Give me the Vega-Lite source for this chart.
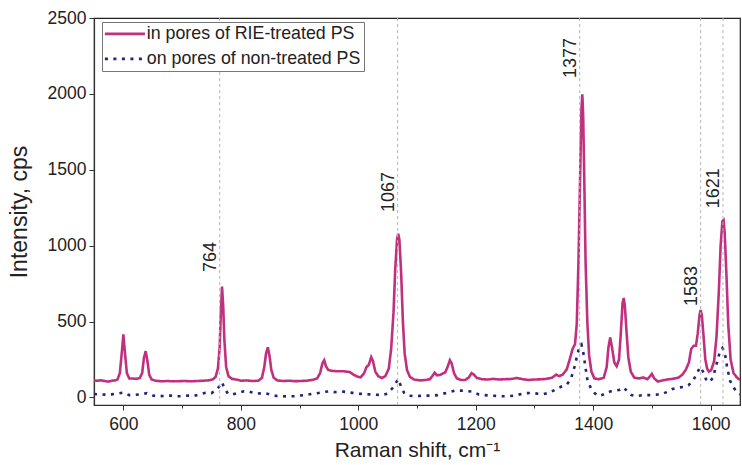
{
  "$schema": "https://vega.github.io/schema/vega-lite/v6.json",
  "autosize": {"type": "none"},
  "padding": {"left": 94, "top": 18, "right": 2, "bottom": 60},
  "width": 646,
  "height": 387,
  "background": "white",
  "config": {
    "font": "Liberation Sans",
    "view": {"stroke": "#222", "strokeWidth": 1.2},
    "axis": {
      "domainColor": "#333",
      "domainWidth": 1.2,
      "tickColor": "#333",
      "tickWidth": 1,
      "labelFont": "Liberation Sans",
      "labelFontSize": 17.5,
      "labelColor": "#222",
      "titleFont": "Liberation Sans",
      "titleFontWeight": "normal",
      "titleColor": "#222",
      "grid": false
    },
    "legend": {
      "labelFont": "Liberation Sans",
      "labelFontSize": 17.8,
      "labelColor": "#222",
      "labelLimit": 0
    }
  },
  "datasets": {
    "peaks": [
      {"p": 764, "lab": "764", "ly": 826},
      {"p": 1067, "lab": "1067", "ly": 1221},
      {"p": 1377, "lab": "1377", "ly": 2104},
      {"p": 1583, "lab": "1583", "ly": 602},
      {"p": 1621, "lab": "1621", "ly": 1247}
    ],
    "spectra": [
      {"x": 550, "y": 112, "s": "in pores of RIE-treated PS"},
      {"x": 556, "y": 110, "s": "in pores of RIE-treated PS"},
      {"x": 562, "y": 113, "s": "in pores of RIE-treated PS"},
      {"x": 568, "y": 108, "s": "in pores of RIE-treated PS"},
      {"x": 574, "y": 104, "s": "in pores of RIE-treated PS"},
      {"x": 580, "y": 110, "s": "in pores of RIE-treated PS"},
      {"x": 586, "y": 112, "s": "in pores of RIE-treated PS"},
      {"x": 590, "y": 118, "s": "in pores of RIE-treated PS"},
      {"x": 594, "y": 160, "s": "in pores of RIE-treated PS"},
      {"x": 597, "y": 280, "s": "in pores of RIE-treated PS"},
      {"x": 600, "y": 415, "s": "in pores of RIE-treated PS"},
      {"x": 603, "y": 280, "s": "in pores of RIE-treated PS"},
      {"x": 606, "y": 160, "s": "in pores of RIE-treated PS"},
      {"x": 610, "y": 125, "s": "in pores of RIE-treated PS"},
      {"x": 616, "y": 125, "s": "in pores of RIE-treated PS"},
      {"x": 622, "y": 122, "s": "in pores of RIE-treated PS"},
      {"x": 628, "y": 128, "s": "in pores of RIE-treated PS"},
      {"x": 632, "y": 160, "s": "in pores of RIE-treated PS"},
      {"x": 635, "y": 260, "s": "in pores of RIE-treated PS"},
      {"x": 638, "y": 305, "s": "in pores of RIE-treated PS"},
      {"x": 641, "y": 240, "s": "in pores of RIE-treated PS"},
      {"x": 644, "y": 150, "s": "in pores of RIE-treated PS"},
      {"x": 648, "y": 118, "s": "in pores of RIE-treated PS"},
      {"x": 655, "y": 110, "s": "in pores of RIE-treated PS"},
      {"x": 665, "y": 106, "s": "in pores of RIE-treated PS"},
      {"x": 675, "y": 108, "s": "in pores of RIE-treated PS"},
      {"x": 685, "y": 106, "s": "in pores of RIE-treated PS"},
      {"x": 695, "y": 107, "s": "in pores of RIE-treated PS"},
      {"x": 705, "y": 108, "s": "in pores of RIE-treated PS"},
      {"x": 715, "y": 106, "s": "in pores of RIE-treated PS"},
      {"x": 725, "y": 108, "s": "in pores of RIE-treated PS"},
      {"x": 735, "y": 110, "s": "in pores of RIE-treated PS"},
      {"x": 745, "y": 112, "s": "in pores of RIE-treated PS"},
      {"x": 752, "y": 118, "s": "in pores of RIE-treated PS"},
      {"x": 757, "y": 135, "s": "in pores of RIE-treated PS"},
      {"x": 761, "y": 190, "s": "in pores of RIE-treated PS"},
      {"x": 764, "y": 330, "s": "in pores of RIE-treated PS"},
      {"x": 766, "y": 560, "s": "in pores of RIE-treated PS"},
      {"x": 768, "y": 730, "s": "in pores of RIE-treated PS"},
      {"x": 770, "y": 600, "s": "in pores of RIE-treated PS"},
      {"x": 772, "y": 380, "s": "in pores of RIE-treated PS"},
      {"x": 775, "y": 200, "s": "in pores of RIE-treated PS"},
      {"x": 779, "y": 140, "s": "in pores of RIE-treated PS"},
      {"x": 785, "y": 122, "s": "in pores of RIE-treated PS"},
      {"x": 792, "y": 118, "s": "in pores of RIE-treated PS"},
      {"x": 800, "y": 110, "s": "in pores of RIE-treated PS"},
      {"x": 810, "y": 112, "s": "in pores of RIE-treated PS"},
      {"x": 820, "y": 108, "s": "in pores of RIE-treated PS"},
      {"x": 830, "y": 110, "s": "in pores of RIE-treated PS"},
      {"x": 836, "y": 130, "s": "in pores of RIE-treated PS"},
      {"x": 840, "y": 200, "s": "in pores of RIE-treated PS"},
      {"x": 843, "y": 290, "s": "in pores of RIE-treated PS"},
      {"x": 846, "y": 330, "s": "in pores of RIE-treated PS"},
      {"x": 849, "y": 270, "s": "in pores of RIE-treated PS"},
      {"x": 852, "y": 180, "s": "in pores of RIE-treated PS"},
      {"x": 856, "y": 130, "s": "in pores of RIE-treated PS"},
      {"x": 862, "y": 112, "s": "in pores of RIE-treated PS"},
      {"x": 872, "y": 108, "s": "in pores of RIE-treated PS"},
      {"x": 882, "y": 110, "s": "in pores of RIE-treated PS"},
      {"x": 892, "y": 107, "s": "in pores of RIE-treated PS"},
      {"x": 902, "y": 108, "s": "in pores of RIE-treated PS"},
      {"x": 912, "y": 110, "s": "in pores of RIE-treated PS"},
      {"x": 922, "y": 115, "s": "in pores of RIE-treated PS"},
      {"x": 930, "y": 125, "s": "in pores of RIE-treated PS"},
      {"x": 935, "y": 160, "s": "in pores of RIE-treated PS"},
      {"x": 939, "y": 225, "s": "in pores of RIE-treated PS"},
      {"x": 942, "y": 245, "s": "in pores of RIE-treated PS"},
      {"x": 945, "y": 205, "s": "in pores of RIE-treated PS"},
      {"x": 949, "y": 180, "s": "in pores of RIE-treated PS"},
      {"x": 955, "y": 175, "s": "in pores of RIE-treated PS"},
      {"x": 965, "y": 172, "s": "in pores of RIE-treated PS"},
      {"x": 975, "y": 172, "s": "in pores of RIE-treated PS"},
      {"x": 985, "y": 168, "s": "in pores of RIE-treated PS"},
      {"x": 992, "y": 150, "s": "in pores of RIE-treated PS"},
      {"x": 998, "y": 138, "s": "in pores of RIE-treated PS"},
      {"x": 1004, "y": 132, "s": "in pores of RIE-treated PS"},
      {"x": 1010, "y": 160, "s": "in pores of RIE-treated PS"},
      {"x": 1014, "y": 200, "s": "in pores of RIE-treated PS"},
      {"x": 1018, "y": 215, "s": "in pores of RIE-treated PS"},
      {"x": 1022, "y": 265, "s": "in pores of RIE-treated PS"},
      {"x": 1025, "y": 240, "s": "in pores of RIE-treated PS"},
      {"x": 1029, "y": 170, "s": "in pores of RIE-treated PS"},
      {"x": 1034, "y": 140, "s": "in pores of RIE-treated PS"},
      {"x": 1040, "y": 128, "s": "in pores of RIE-treated PS"},
      {"x": 1046, "y": 140, "s": "in pores of RIE-treated PS"},
      {"x": 1052, "y": 190, "s": "in pores of RIE-treated PS"},
      {"x": 1056, "y": 320, "s": "in pores of RIE-treated PS"},
      {"x": 1060, "y": 560, "s": "in pores of RIE-treated PS"},
      {"x": 1063, "y": 850, "s": "in pores of RIE-treated PS"},
      {"x": 1066, "y": 1040, "s": "in pores of RIE-treated PS"},
      {"x": 1068, "y": 1078, "s": "in pores of RIE-treated PS"},
      {"x": 1070, "y": 1040, "s": "in pores of RIE-treated PS"},
      {"x": 1073, "y": 820, "s": "in pores of RIE-treated PS"},
      {"x": 1076, "y": 500, "s": "in pores of RIE-treated PS"},
      {"x": 1079, "y": 290, "s": "in pores of RIE-treated PS"},
      {"x": 1083, "y": 180, "s": "in pores of RIE-treated PS"},
      {"x": 1088, "y": 135, "s": "in pores of RIE-treated PS"},
      {"x": 1095, "y": 118, "s": "in pores of RIE-treated PS"},
      {"x": 1105, "y": 112, "s": "in pores of RIE-treated PS"},
      {"x": 1115, "y": 115, "s": "in pores of RIE-treated PS"},
      {"x": 1122, "y": 120, "s": "in pores of RIE-treated PS"},
      {"x": 1127, "y": 145, "s": "in pores of RIE-treated PS"},
      {"x": 1130, "y": 163, "s": "in pores of RIE-treated PS"},
      {"x": 1134, "y": 145, "s": "in pores of RIE-treated PS"},
      {"x": 1140, "y": 150, "s": "in pores of RIE-treated PS"},
      {"x": 1148, "y": 165, "s": "in pores of RIE-treated PS"},
      {"x": 1152, "y": 200, "s": "in pores of RIE-treated PS"},
      {"x": 1156, "y": 245, "s": "in pores of RIE-treated PS"},
      {"x": 1159, "y": 225, "s": "in pores of RIE-treated PS"},
      {"x": 1163, "y": 160, "s": "in pores of RIE-treated PS"},
      {"x": 1168, "y": 125, "s": "in pores of RIE-treated PS"},
      {"x": 1175, "y": 115, "s": "in pores of RIE-treated PS"},
      {"x": 1182, "y": 115, "s": "in pores of RIE-treated PS"},
      {"x": 1188, "y": 130, "s": "in pores of RIE-treated PS"},
      {"x": 1193, "y": 160, "s": "in pores of RIE-treated PS"},
      {"x": 1197, "y": 150, "s": "in pores of RIE-treated PS"},
      {"x": 1202, "y": 128, "s": "in pores of RIE-treated PS"},
      {"x": 1210, "y": 120, "s": "in pores of RIE-treated PS"},
      {"x": 1220, "y": 118, "s": "in pores of RIE-treated PS"},
      {"x": 1230, "y": 122, "s": "in pores of RIE-treated PS"},
      {"x": 1240, "y": 118, "s": "in pores of RIE-treated PS"},
      {"x": 1250, "y": 120, "s": "in pores of RIE-treated PS"},
      {"x": 1260, "y": 121, "s": "in pores of RIE-treated PS"},
      {"x": 1270, "y": 128, "s": "in pores of RIE-treated PS"},
      {"x": 1280, "y": 120, "s": "in pores of RIE-treated PS"},
      {"x": 1290, "y": 115, "s": "in pores of RIE-treated PS"},
      {"x": 1300, "y": 118, "s": "in pores of RIE-treated PS"},
      {"x": 1310, "y": 119, "s": "in pores of RIE-treated PS"},
      {"x": 1320, "y": 122, "s": "in pores of RIE-treated PS"},
      {"x": 1330, "y": 130, "s": "in pores of RIE-treated PS"},
      {"x": 1337, "y": 150, "s": "in pores of RIE-treated PS"},
      {"x": 1342, "y": 140, "s": "in pores of RIE-treated PS"},
      {"x": 1348, "y": 150, "s": "in pores of RIE-treated PS"},
      {"x": 1355, "y": 185, "s": "in pores of RIE-treated PS"},
      {"x": 1360, "y": 250, "s": "in pores of RIE-treated PS"},
      {"x": 1365, "y": 320, "s": "in pores of RIE-treated PS"},
      {"x": 1369, "y": 350, "s": "in pores of RIE-treated PS"},
      {"x": 1372, "y": 480, "s": "in pores of RIE-treated PS"},
      {"x": 1375, "y": 900, "s": "in pores of RIE-treated PS"},
      {"x": 1378, "y": 1500, "s": "in pores of RIE-treated PS"},
      {"x": 1380, "y": 1900, "s": "in pores of RIE-treated PS"},
      {"x": 1381.5, "y": 1997, "s": "in pores of RIE-treated PS"},
      {"x": 1383, "y": 1850, "s": "in pores of RIE-treated PS"},
      {"x": 1385, "y": 1400, "s": "in pores of RIE-treated PS"},
      {"x": 1387, "y": 900, "s": "in pores of RIE-treated PS"},
      {"x": 1390, "y": 500, "s": "in pores of RIE-treated PS"},
      {"x": 1393, "y": 280, "s": "in pores of RIE-treated PS"},
      {"x": 1397, "y": 170, "s": "in pores of RIE-treated PS"},
      {"x": 1402, "y": 125, "s": "in pores of RIE-treated PS"},
      {"x": 1410, "y": 120, "s": "in pores of RIE-treated PS"},
      {"x": 1418, "y": 130, "s": "in pores of RIE-treated PS"},
      {"x": 1423, "y": 200, "s": "in pores of RIE-treated PS"},
      {"x": 1426, "y": 330, "s": "in pores of RIE-treated PS"},
      {"x": 1429, "y": 395, "s": "in pores of RIE-treated PS"},
      {"x": 1432, "y": 330, "s": "in pores of RIE-treated PS"},
      {"x": 1436, "y": 230, "s": "in pores of RIE-treated PS"},
      {"x": 1440, "y": 205, "s": "in pores of RIE-treated PS"},
      {"x": 1444, "y": 250, "s": "in pores of RIE-treated PS"},
      {"x": 1447, "y": 420, "s": "in pores of RIE-treated PS"},
      {"x": 1450, "y": 620, "s": "in pores of RIE-treated PS"},
      {"x": 1452, "y": 655, "s": "in pores of RIE-treated PS"},
      {"x": 1454, "y": 600, "s": "in pores of RIE-treated PS"},
      {"x": 1457, "y": 420, "s": "in pores of RIE-treated PS"},
      {"x": 1460, "y": 260, "s": "in pores of RIE-treated PS"},
      {"x": 1464, "y": 170, "s": "in pores of RIE-treated PS"},
      {"x": 1470, "y": 130, "s": "in pores of RIE-treated PS"},
      {"x": 1478, "y": 125, "s": "in pores of RIE-treated PS"},
      {"x": 1485, "y": 132, "s": "in pores of RIE-treated PS"},
      {"x": 1492, "y": 120, "s": "in pores of RIE-treated PS"},
      {"x": 1497, "y": 140, "s": "in pores of RIE-treated PS"},
      {"x": 1500, "y": 155, "s": "in pores of RIE-treated PS"},
      {"x": 1504, "y": 125, "s": "in pores of RIE-treated PS"},
      {"x": 1510, "y": 105, "s": "in pores of RIE-treated PS"},
      {"x": 1518, "y": 112, "s": "in pores of RIE-treated PS"},
      {"x": 1526, "y": 118, "s": "in pores of RIE-treated PS"},
      {"x": 1535, "y": 122, "s": "in pores of RIE-treated PS"},
      {"x": 1545, "y": 130, "s": "in pores of RIE-treated PS"},
      {"x": 1552, "y": 150, "s": "in pores of RIE-treated PS"},
      {"x": 1558, "y": 185, "s": "in pores of RIE-treated PS"},
      {"x": 1563, "y": 230, "s": "in pores of RIE-treated PS"},
      {"x": 1567, "y": 320, "s": "in pores of RIE-treated PS"},
      {"x": 1571, "y": 340, "s": "in pores of RIE-treated PS"},
      {"x": 1575, "y": 340, "s": "in pores of RIE-treated PS"},
      {"x": 1578, "y": 420, "s": "in pores of RIE-treated PS"},
      {"x": 1581, "y": 540, "s": "in pores of RIE-treated PS"},
      {"x": 1583, "y": 576, "s": "in pores of RIE-treated PS"},
      {"x": 1585, "y": 540, "s": "in pores of RIE-treated PS"},
      {"x": 1588, "y": 400, "s": "in pores of RIE-treated PS"},
      {"x": 1591, "y": 250, "s": "in pores of RIE-treated PS"},
      {"x": 1594, "y": 190, "s": "in pores of RIE-treated PS"},
      {"x": 1597, "y": 170, "s": "in pores of RIE-treated PS"},
      {"x": 1601, "y": 180, "s": "in pores of RIE-treated PS"},
      {"x": 1606, "y": 240, "s": "in pores of RIE-treated PS"},
      {"x": 1610, "y": 400, "s": "in pores of RIE-treated PS"},
      {"x": 1614, "y": 700, "s": "in pores of RIE-treated PS"},
      {"x": 1617, "y": 1000, "s": "in pores of RIE-treated PS"},
      {"x": 1620, "y": 1160, "s": "in pores of RIE-treated PS"},
      {"x": 1622, "y": 1168, "s": "in pores of RIE-treated PS"},
      {"x": 1624, "y": 1080, "s": "in pores of RIE-treated PS"},
      {"x": 1627, "y": 800, "s": "in pores of RIE-treated PS"},
      {"x": 1630, "y": 480, "s": "in pores of RIE-treated PS"},
      {"x": 1634, "y": 250, "s": "in pores of RIE-treated PS"},
      {"x": 1639, "y": 160, "s": "in pores of RIE-treated PS"},
      {"x": 1645, "y": 130, "s": "in pores of RIE-treated PS"},
      {"x": 1650, "y": 115, "s": "in pores of RIE-treated PS"},

      {"x": 550, "y": 22, "s": "on pores of non-treated PS"},
      {"x": 560, "y": 20, "s": "on pores of non-treated PS"},
      {"x": 570, "y": 18, "s": "on pores of non-treated PS"},
      {"x": 580, "y": 20, "s": "on pores of non-treated PS"},
      {"x": 590, "y": 25, "s": "on pores of non-treated PS"},
      {"x": 600, "y": 32, "s": "on pores of non-treated PS"},
      {"x": 610, "y": 15, "s": "on pores of non-treated PS"},
      {"x": 620, "y": 17, "s": "on pores of non-treated PS"},
      {"x": 630, "y": 20, "s": "on pores of non-treated PS"},
      {"x": 640, "y": 28, "s": "on pores of non-treated PS"},
      {"x": 650, "y": 12, "s": "on pores of non-treated PS"},
      {"x": 660, "y": 8, "s": "on pores of non-treated PS"},
      {"x": 670, "y": 10, "s": "on pores of non-treated PS"},
      {"x": 680, "y": 12, "s": "on pores of non-treated PS"},
      {"x": 690, "y": 8, "s": "on pores of non-treated PS"},
      {"x": 700, "y": 8, "s": "on pores of non-treated PS"},
      {"x": 710, "y": 12, "s": "on pores of non-treated PS"},
      {"x": 720, "y": 10, "s": "on pores of non-treated PS"},
      {"x": 730, "y": 20, "s": "on pores of non-treated PS"},
      {"x": 740, "y": 30, "s": "on pores of non-treated PS"},
      {"x": 750, "y": 28, "s": "on pores of non-treated PS"},
      {"x": 758, "y": 50, "s": "on pores of non-treated PS"},
      {"x": 764, "y": 75, "s": "on pores of non-treated PS"},
      {"x": 768, "y": 100, "s": "on pores of non-treated PS"},
      {"x": 772, "y": 60, "s": "on pores of non-treated PS"},
      {"x": 778, "y": 25, "s": "on pores of non-treated PS"},
      {"x": 785, "y": 18, "s": "on pores of non-treated PS"},
      {"x": 795, "y": 30, "s": "on pores of non-treated PS"},
      {"x": 805, "y": 40, "s": "on pores of non-treated PS"},
      {"x": 815, "y": 38, "s": "on pores of non-treated PS"},
      {"x": 825, "y": 25, "s": "on pores of non-treated PS"},
      {"x": 840, "y": 28, "s": "on pores of non-treated PS"},
      {"x": 850, "y": 20, "s": "on pores of non-treated PS"},
      {"x": 860, "y": 10, "s": "on pores of non-treated PS"},
      {"x": 870, "y": 8, "s": "on pores of non-treated PS"},
      {"x": 880, "y": 6, "s": "on pores of non-treated PS"},
      {"x": 890, "y": 8, "s": "on pores of non-treated PS"},
      {"x": 900, "y": 12, "s": "on pores of non-treated PS"},
      {"x": 910, "y": 15, "s": "on pores of non-treated PS"},
      {"x": 920, "y": 22, "s": "on pores of non-treated PS"},
      {"x": 930, "y": 28, "s": "on pores of non-treated PS"},
      {"x": 940, "y": 35, "s": "on pores of non-treated PS"},
      {"x": 950, "y": 40, "s": "on pores of non-treated PS"},
      {"x": 960, "y": 35, "s": "on pores of non-treated PS"},
      {"x": 975, "y": 38, "s": "on pores of non-treated PS"},
      {"x": 990, "y": 30, "s": "on pores of non-treated PS"},
      {"x": 1000, "y": 25, "s": "on pores of non-treated PS"},
      {"x": 1010, "y": 22, "s": "on pores of non-treated PS"},
      {"x": 1020, "y": 20, "s": "on pores of non-treated PS"},
      {"x": 1030, "y": 18, "s": "on pores of non-treated PS"},
      {"x": 1040, "y": 15, "s": "on pores of non-treated PS"},
      {"x": 1050, "y": 25, "s": "on pores of non-treated PS"},
      {"x": 1058, "y": 60, "s": "on pores of non-treated PS"},
      {"x": 1063, "y": 90, "s": "on pores of non-treated PS"},
      {"x": 1068, "y": 120, "s": "on pores of non-treated PS"},
      {"x": 1073, "y": 70, "s": "on pores of non-treated PS"},
      {"x": 1078, "y": 30, "s": "on pores of non-treated PS"},
      {"x": 1085, "y": 12, "s": "on pores of non-treated PS"},
      {"x": 1095, "y": 8, "s": "on pores of non-treated PS"},
      {"x": 1105, "y": 10, "s": "on pores of non-treated PS"},
      {"x": 1115, "y": 12, "s": "on pores of non-treated PS"},
      {"x": 1125, "y": 12, "s": "on pores of non-treated PS"},
      {"x": 1135, "y": 15, "s": "on pores of non-treated PS"},
      {"x": 1145, "y": 25, "s": "on pores of non-treated PS"},
      {"x": 1155, "y": 35, "s": "on pores of non-treated PS"},
      {"x": 1165, "y": 45, "s": "on pores of non-treated PS"},
      {"x": 1175, "y": 45, "s": "on pores of non-treated PS"},
      {"x": 1185, "y": 42, "s": "on pores of non-treated PS"},
      {"x": 1195, "y": 38, "s": "on pores of non-treated PS"},
      {"x": 1205, "y": 20, "s": "on pores of non-treated PS"},
      {"x": 1215, "y": 15, "s": "on pores of non-treated PS"},
      {"x": 1225, "y": 12, "s": "on pores of non-treated PS"},
      {"x": 1235, "y": 10, "s": "on pores of non-treated PS"},
      {"x": 1245, "y": 8, "s": "on pores of non-treated PS"},
      {"x": 1255, "y": 8, "s": "on pores of non-treated PS"},
      {"x": 1265, "y": 12, "s": "on pores of non-treated PS"},
      {"x": 1275, "y": 20, "s": "on pores of non-treated PS"},
      {"x": 1285, "y": 28, "s": "on pores of non-treated PS"},
      {"x": 1295, "y": 30, "s": "on pores of non-treated PS"},
      {"x": 1305, "y": 25, "s": "on pores of non-treated PS"},
      {"x": 1315, "y": 22, "s": "on pores of non-treated PS"},
      {"x": 1325, "y": 30, "s": "on pores of non-treated PS"},
      {"x": 1335, "y": 50, "s": "on pores of non-treated PS"},
      {"x": 1345, "y": 70, "s": "on pores of non-treated PS"},
      {"x": 1355, "y": 85, "s": "on pores of non-treated PS"},
      {"x": 1362, "y": 120, "s": "on pores of non-treated PS"},
      {"x": 1368, "y": 200, "s": "on pores of non-treated PS"},
      {"x": 1373, "y": 280, "s": "on pores of non-treated PS"},
      {"x": 1377, "y": 340, "s": "on pores of non-treated PS"},
      {"x": 1380, "y": 350, "s": "on pores of non-treated PS"},
      {"x": 1383, "y": 300, "s": "on pores of non-treated PS"},
      {"x": 1386, "y": 220, "s": "on pores of non-treated PS"},
      {"x": 1390, "y": 120, "s": "on pores of non-treated PS"},
      {"x": 1396, "y": 60, "s": "on pores of non-treated PS"},
      {"x": 1402, "y": 30, "s": "on pores of non-treated PS"},
      {"x": 1408, "y": 10, "s": "on pores of non-treated PS"},
      {"x": 1415, "y": 15, "s": "on pores of non-treated PS"},
      {"x": 1422, "y": 30, "s": "on pores of non-treated PS"},
      {"x": 1430, "y": 40, "s": "on pores of non-treated PS"},
      {"x": 1438, "y": 45, "s": "on pores of non-treated PS"},
      {"x": 1446, "y": 50, "s": "on pores of non-treated PS"},
      {"x": 1452, "y": 65, "s": "on pores of non-treated PS"},
      {"x": 1458, "y": 40, "s": "on pores of non-treated PS"},
      {"x": 1465, "y": 15, "s": "on pores of non-treated PS"},
      {"x": 1475, "y": 10, "s": "on pores of non-treated PS"},
      {"x": 1485, "y": 15, "s": "on pores of non-treated PS"},
      {"x": 1495, "y": 15, "s": "on pores of non-treated PS"},
      {"x": 1505, "y": 18, "s": "on pores of non-treated PS"},
      {"x": 1515, "y": 20, "s": "on pores of non-treated PS"},
      {"x": 1525, "y": 35, "s": "on pores of non-treated PS"},
      {"x": 1535, "y": 55, "s": "on pores of non-treated PS"},
      {"x": 1545, "y": 65, "s": "on pores of non-treated PS"},
      {"x": 1555, "y": 70, "s": "on pores of non-treated PS"},
      {"x": 1562, "y": 80, "s": "on pores of non-treated PS"},
      {"x": 1570, "y": 110, "s": "on pores of non-treated PS"},
      {"x": 1577, "y": 160, "s": "on pores of non-treated PS"},
      {"x": 1582, "y": 200, "s": "on pores of non-treated PS"},
      {"x": 1587, "y": 170, "s": "on pores of non-treated PS"},
      {"x": 1592, "y": 120, "s": "on pores of non-treated PS"},
      {"x": 1598, "y": 100, "s": "on pores of non-treated PS"},
      {"x": 1604, "y": 130, "s": "on pores of non-treated PS"},
      {"x": 1610, "y": 220, "s": "on pores of non-treated PS"},
      {"x": 1615, "y": 290, "s": "on pores of non-treated PS"},
      {"x": 1620, "y": 325, "s": "on pores of non-treated PS"},
      {"x": 1624, "y": 300, "s": "on pores of non-treated PS"},
      {"x": 1628, "y": 200, "s": "on pores of non-treated PS"},
      {"x": 1633, "y": 110, "s": "on pores of non-treated PS"},
      {"x": 1640, "y": 60, "s": "on pores of non-treated PS"},
      {"x": 1645, "y": 35, "s": "on pores of non-treated PS"},
      {"x": 1650, "y": 20, "s": "on pores of non-treated PS"}
    ]
  },
  "layer": [
    {
      "data": {"name": "spectra"},
      "mark": {"type": "line", "strokeWidth": 2.6, "strokeCap": "butt", "clip": true},
      "encoding": {
        "x": {
          "field": "x",
          "type": "quantitative",
          "scale": {"domain": [550, 1650], "nice": false, "zero": false},
          "axis": {
            "title": "Raman shift, cm⁻¹",
            "titleFontSize": 21,
            "values": [600, 700, 800, 900, 1000, 1100, 1200, 1300, 1400, 1500, 1600],
            "labelExpr": "datum.value % 200 === 0 ? datum.label : ''",
            "format": "d",
            "tickSize": {"condition": {"test": "datum.value % 200 === 0", "value": 5}, "value": 3},
            "labelPadding": 5,
            "titlePadding": 7
          }
        },
        "y": {
          "field": "y",
          "type": "quantitative",
          "scale": {"domain": [-50, 2500], "nice": false, "zero": false},
          "axis": {
            "title": "Intensity, cps",
            "titleFontSize": 23,
            "values": [0, 250, 500, 750, 1000, 1250, 1500, 1750, 2000, 2250, 2500],
            "labelExpr": "datum.value % 500 === 0 ? datum.label : ''",
            "format": "d",
            "tickSize": {"condition": {"test": "datum.value % 500 === 0", "value": 5}, "value": 3},
            "labelPadding": 3,
            "titlePadding": 16
          }
        },
        "color": {
          "field": "s",
          "type": "nominal",
          "scale": {
            "domain": ["in pores of RIE-treated PS", "on pores of non-treated PS"],
            "range": ["#c1307f", "#23237a"]
          },
          "legend": {
            "title": null,
            "orient": "none",
            "legendX": 8,
            "legendY": 4,
            "direction": "vertical",
            "strokeColor": "#777",
            "fillColor": "white",
            "padding": 3,
            "symbolType": "M-4,0H4",
            "symbolSize": 100,
            "symbolStrokeWidth": 2.6,
            "symbolOffset": 11,
            "labelOffset": 13,
            "rowPadding": 6
          }
        },
        "strokeDash": {
          "field": "s",
          "type": "nominal",
          "scale": {
            "domain": ["in pores of RIE-treated PS", "on pores of non-treated PS"],
            "range": [[1, 0], [3, 5.5]]
          },
          "legend": {
            "title": null,
            "orient": "none",
            "legendX": 8,
            "legendY": 4,
            "direction": "vertical",
            "strokeColor": "#777",
            "fillColor": "white",
            "padding": 3,
            "symbolType": "M-4,0H4",
            "symbolSize": 100,
            "symbolStrokeWidth": 2.6,
            "symbolOffset": 11,
            "labelOffset": 13,
            "rowPadding": 6
          }
        }
      }
    },
    {
      "data": {"name": "peaks"},
      "mark": {"type": "rule", "color": "#b5b5b5", "strokeWidth": 1, "strokeDash": [3, 3]},
      "encoding": {
        "x": {"field": "p", "type": "quantitative"}
      }
    },
    {
      "data": {"name": "peaks"},
      "mark": {"type": "text", "angle": 270, "align": "left", "baseline": "bottom", "fontSize": 18, "color": "#222", "font": "Liberation Sans"},
      "encoding": {
        "x": {"field": "p", "type": "quantitative"},
        "y": {"field": "ly", "type": "quantitative"},
        "text": {"field": "lab"}
      }
    }
  ]
}
